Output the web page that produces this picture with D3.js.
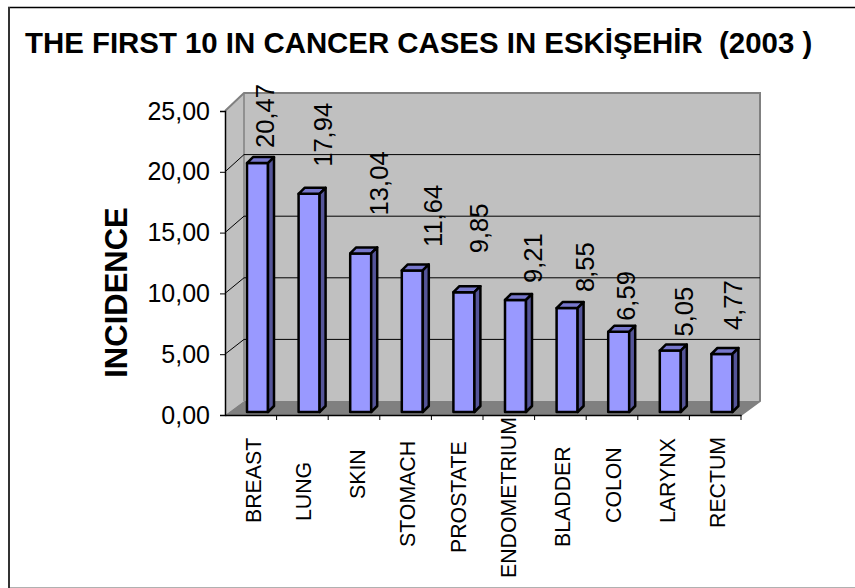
<!DOCTYPE html>
<html>
<head>
<meta charset="utf-8">
<script src="https://cdn.jsdelivr.net/npm/d3@7.9.0/dist/d3.min.js"></script>
<style>
  body { margin: 0; background: #fff; }
  text { font-family: "Liberation Sans", Arial, sans-serif; fill: #000; white-space: pre; }
</style>
</head>
<body>
<svg width="855" height="588" style="display:block"></svg>
<script>
const categories = ['BREAST', 'LUNG', 'SKIN', 'STOMACH', 'PROSTATE', 'ENDOMETRIUM', 'BLADDER', 'COLON', 'LARYNX', 'RECTUM'];
const incidence = [20.47, 17.94, 13.04, 11.64, 9.85, 9.21, 8.55, 6.59, 5.05, 4.77];
const yTicks = [0, 5, 10, 15, 20, 25];

// the labels in the original are not evenly placed, so nudge each one
const valueGap = [15, 27, 38, 23.5, 39, 17, 16, 11, 14, 24];
const valueDx = [49, 55, 60, 62, 57, 59, 59, 49, 55, 53];
const categoryStart = [523, 521, 499, 547, 553, 578, 547, 523, 523, 528];
const categoryDx = [10, 8.6, 11, 9.4, 9, 7.2, 9.6, 9, 11.4, 9.8];

const svg = d3.select('svg');
const comma = (d) => d.toFixed(2).replace('.', ',');
const pts = (list) => list.map((p) => p.join(',')).join(' ');

// front plane of the 3d box, the wall sits behind it
const x0 = 225, x1 = 741, yBase = 415, yTop = 111;
const depthX = 19;

let x = d3.scaleBand().domain(categories).range([x0, x1]);
let y = d3.scaleLinear().domain([0, 25]).range([yBase, yTop]);
let yBack = d3.scaleLinear().domain([0, 25]).range([401, 93]);

// frame: no right side, faint bottom
svg.append('line').attr('x1', 8).attr('x2', 855).attr('y1', 7.5).attr('y2', 7.5).attr('stroke', '#000').attr('stroke-width', 1.5);
svg.append('line').attr('x1', 9).attr('x2', 9).attr('y1', 7).attr('y2', 588).attr('stroke', '#333').attr('stroke-width', 2);
svg.append('line').attr('x1', 10).attr('x2', 855).attr('y1', 587.5).attr('y2', 587.5).attr('stroke', '#b0b0b0').attr('stroke-width', 1);

svg.append('text').attr('x', 25).attr('y', 53)
  .attr('font-size', 29.4).attr('font-weight', 'bold')
  .text('THE FIRST 10 IN CANCER CASES IN ESKİŞEHİR  (2003 )');

// side wall, back wall, floor
const wall = (list, fill) => svg.append('polygon').attr('points', pts(list)).attr('fill', fill);
wall([[x0, yBase], [x0 + depthX, yBack(0)], [x0 + depthX, yBack(25)], [x0, yTop]], '#c0c0c0');
wall([[x0 + depthX, yBack(0)], [x1 + depthX, yBack(0)], [x1 + depthX, yBack(25)], [x0 + depthX, yBack(25)]], '#c0c0c0');
wall([[x0, yBase], [x1, yBase], [x1 + depthX, yBack(0)], [x0 + depthX, yBack(0)]], '#808080');

// gray rim of the walls
svg.append('polyline')
  .attr('points', pts([[x0, yTop], [x0 + depthX, yBack(25)], [x1 + depthX, yBack(25)], [x1 + depthX, yBack(0)], [x1, yBase]]))
  .attr('fill', 'none').attr('stroke', '#808080').attr('stroke-width', 2);
svg.append('line').attr('x1', x0 + depthX).attr('x2', x0 + depthX).attr('y1', yBack(25)).attr('y2', yBack(0))
  .attr('stroke', '#808080').attr('stroke-width', 1.5);

// gridlines run along the side wall and the back wall
yTicks.slice(1, -1).forEach((t) => {
  svg.append('polyline')
    .attr('points', pts([[x0, y(t)], [x0 + depthX, yBack(t)], [x1 + depthX, yBack(t)]]))
    .attr('fill', 'none').attr('stroke', '#000').attr('stroke-width', 1);
});

// bars
const barW = 21, barD = 6, barLift = 3;
const bars = svg.append('g').attr('stroke', '#000').attr('stroke-width', 2.5).attr('stroke-linejoin', 'round');
categories.forEach((c, i) => {
  const left = x(c) + 22;
  const top = y(incidence[i]) - barLift;
  const bottom = yBase - barLift;
  bars.append('rect').attr('x', left).attr('y', top).attr('width', barW).attr('height', bottom - top).attr('fill', '#9999ff');
  bars.append('polygon').attr('fill', '#7777cc')
    .attr('points', pts([[left, top], [left + barD, top - barD], [left + barW + barD, top - barD], [left + barW, top]]));
  bars.append('polygon').attr('fill', '#555599')
    .attr('points', pts([[left + barW, top], [left + barW + barD, top - barD], [left + barW + barD, bottom - barD], [left + barW, bottom]]));
});

// value labels
categories.forEach((c, i) => {
  svg.append('text')
    .attr('transform', `translate(${x(c) + valueDx[i]},${y(incidence[i]) - barLift - valueGap[i]}) rotate(-90)`)
    .attr('font-size', 25.6)
    .text(comma(incidence[i]));
});

// axes
const yG = svg.append('g').attr('transform', `translate(${x0},0)`)
  .call(d3.axisLeft(y).tickValues(yTicks).tickFormat(comma).tickSize(5).tickPadding(10));
yG.selectAll('text').attr('font-size', 25);
yG.select('.domain').attr('stroke', '#000').attr('stroke-width', 1.5);

const xG = svg.append('g').attr('transform', `translate(0,${yBase})`)
  .call(d3.axisBottom(x).tickSize(0).tickFormat(''));
xG.select('.domain').attr('stroke', '#000').attr('stroke-width', 1.5);
categories.forEach((c) => {
  xG.append('line').attr('x1', x(c) + x.bandwidth()).attr('x2', x(c) + x.bandwidth()).attr('y1', 0).attr('y2', 5).attr('stroke', '#000');
});

// category labels
categories.forEach((c, i) => {
  svg.append('text')
    .attr('transform', `translate(${x(c) + x.bandwidth() / 2 + categoryDx[i]},${categoryStart[i]}) rotate(-90)`)
    .attr('font-size', 21.3)
    .text(c);
});

svg.append('text')
  .attr('transform', 'translate(127,292.5) rotate(-90)')
  .attr('font-size', 31).attr('font-weight', 'bold').attr('text-anchor', 'middle')
  .text('INCIDENCE');
</script>
</body>
</html>
